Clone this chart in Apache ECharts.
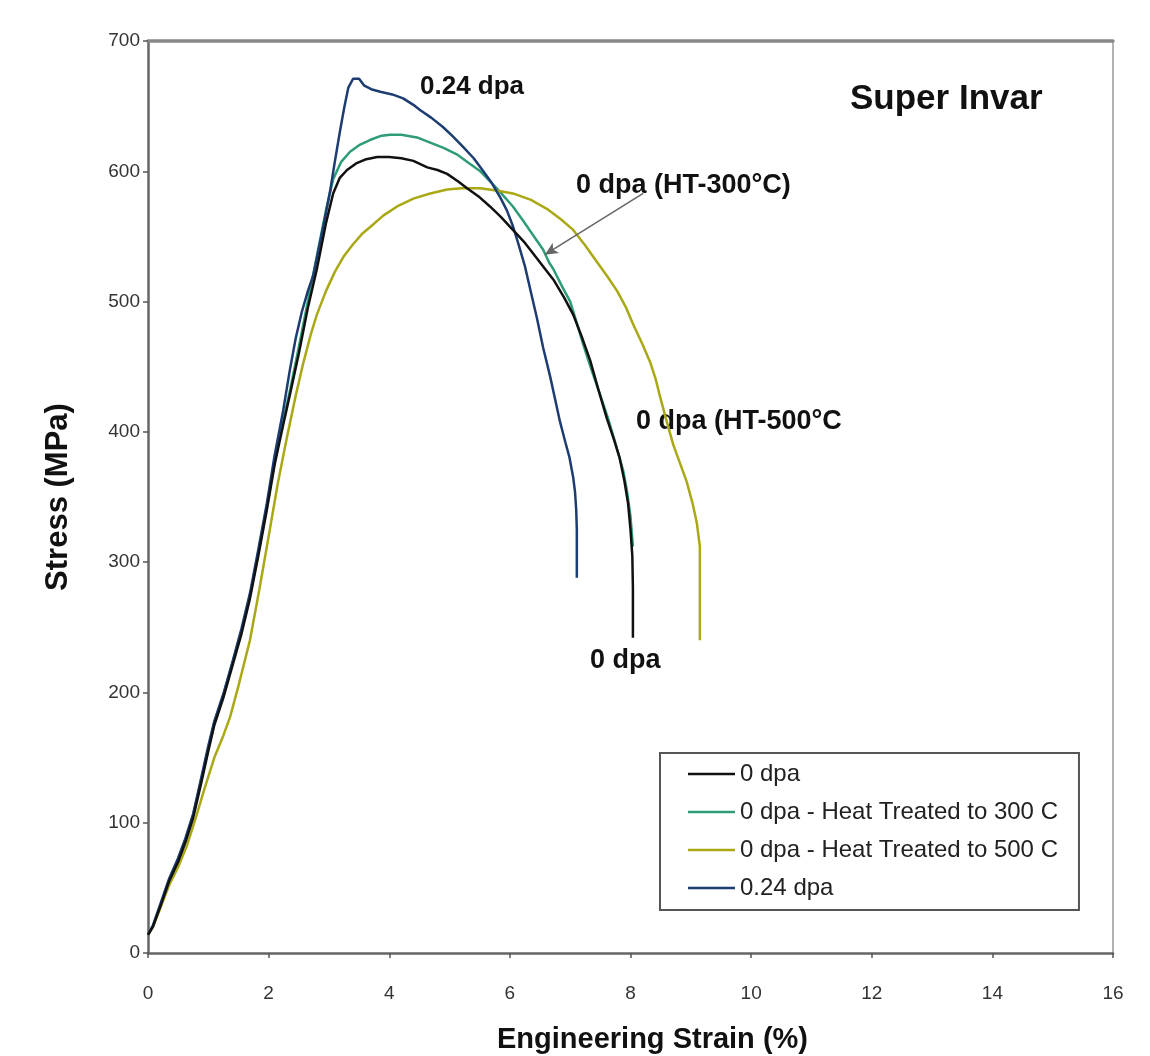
<!DOCTYPE html>
<html><head><meta charset="utf-8">
<script src="https://cdn.jsdelivr.net/npm/echarts@6.0.0/dist/echarts.min.js"></script>
<style>html,body{margin:0;padding:0;background:#fff}#c{width:1150px;height:1056px}</style>
</head><body><div id="c"></div>
<script>
// ---- data (strain %, stress MPa) ----
const seriesNames = ['0 dpa', '0 dpa - Heat Treated to 300 C', '0 dpa - Heat Treated to 500 C', '0.24 dpa'];
const xTicks = [0, 2, 4, 6, 8, 10, 12, 14, 16];
const yTicks = [0, 100, 200, 300, 400, 500, 600, 700];

const dpa0 = [[0,14],[0.08,20],[0.2,35],[0.35,55],[0.5,70],[0.62,85],[0.75,104],[0.88,130],[1.0,155],[1.1,175],[1.25,196],[1.41,222],[1.55,245],[1.69,272],[1.83,305],[1.97,340],[2.1,375],[2.24,405],[2.36,430],[2.5,460],[2.65,495],[2.8,525],[2.95,560],[3.07,583],[3.18,595],[3.3,601],[3.45,606],[3.6,609],[3.8,611],[4.0,611],[4.2,610],[4.4,608],[4.63,603],[4.8,601],[4.96,598],[5.15,592],[5.29,587],[5.5,580],[5.67,573],[5.85,565],[6.05,555],[6.25,545],[6.45,533],[6.6,524],[6.72,517],[6.9,503],[7.05,490],[7.2,472],[7.33,455],[7.47,432],[7.61,410],[7.72,395],[7.82,380],[7.9,362],[7.96,345],[8.0,325],[8.03,305],[8.04,280],[8.04,242]];
const dpa0HT300 = [[0,14],[0.08,20],[0.2,36],[0.35,56],[0.5,72],[0.62,87],[0.75,106],[0.88,132],[1.0,157],[1.1,177],[1.25,198],[1.41,224],[1.55,247],[1.69,274],[1.83,307],[1.97,342],[2.1,377],[2.24,408],[2.36,433],[2.5,465],[2.65,500],[2.8,535],[2.95,570],[3.07,594],[3.2,607],[3.35,615],[3.5,620],[3.68,624],[3.85,627],[4.01,628],[4.2,628],[4.46,626],[4.68,622],[4.9,618],[5.12,613],[5.3,607],[5.51,600],[5.7,591],[5.84,584],[6.05,573],[6.22,562],[6.4,550],[6.55,540],[6.65,530],[6.72,525],[6.85,513],[7.0,500],[7.1,485],[7.21,468],[7.35,448],[7.5,428],[7.63,410],[7.72,396],[7.8,383],[7.88,370],[7.94,355],[8.0,335],[8.04,312]];
const dpa0HT500 = [[0,14],[0.08,20],[0.2,34],[0.35,52],[0.5,66],[0.65,83],[0.8,105],[0.95,128],[1.1,150],[1.25,167],[1.36,181],[1.5,205],[1.69,240],[1.85,280],[2.02,325],[2.15,360],[2.3,395],[2.45,428],[2.57,452],[2.7,475],[2.8,490],[2.95,508],[3.1,523],[3.25,535],[3.4,544],[3.55,552],[3.68,557],[3.9,566],[4.13,573],[4.4,579],[4.68,583],[4.96,586],[5.2,587],[5.51,587],[5.8,585],[6.05,583],[6.35,578],[6.62,571],[6.85,563],[7.05,555],[7.25,543],[7.45,530],[7.62,519],[7.78,508],[7.92,496],[8.04,483],[8.2,467],[8.33,453],[8.42,440],[8.49,427],[8.6,408],[8.71,390],[8.82,376],[8.93,362],[9.03,345],[9.1,330],[9.15,312],[9.15,240]];
const dpa024 = [[0,14],[0.08,21],[0.2,37],[0.35,57],[0.5,73],[0.62,88],[0.75,107],[0.88,134],[1.0,159],[1.1,178],[1.25,199],[1.41,225],[1.55,249],[1.69,276],[1.83,310],[1.97,345],[2.1,382],[2.24,416],[2.35,447],[2.45,472],[2.55,492],[2.65,508],[2.74,520],[2.85,545],[2.95,568],[3.02,585],[3.1,608],[3.18,630],[3.25,648],[3.32,664],[3.4,671],[3.5,671],[3.58,666],[3.7,663],[3.85,661],[4.05,659],[4.23,656],[4.4,651],[4.51,647],[4.7,641],[4.89,634],[5.05,627],[5.22,619],[5.4,610],[5.56,600],[5.7,591],[5.84,580],[5.95,570],[6.05,558],[6.15,543],[6.25,527],[6.35,507],[6.45,487],[6.55,465],[6.67,442],[6.75,425],[6.83,408],[6.92,392],[6.99,380],[7.05,365],[7.08,354],[7.1,340],[7.11,325],[7.11,288]];

const arrowFrom = [8.21, 583];
const arrowTo = [6.58, 536];

const colors = ['#111111', '#2f9c78', '#aaa814', '#1c3c72'];
const seriesData = [dpa0, dpa0HT300, dpa0HT500, dpa024];

const chart = echarts.init(document.getElementById('c'), null, {renderer: 'canvas'});
const font = "'Liberation Sans',Arial,sans-serif";

const series = seriesNames.map((n, i) => ({
  name: n, type: 'line', data: seriesData[i], showSymbol: false, symbol: 'none',
  smooth: false, z: i === 0 ? 5 : 3, xAxisIndex: 0, yAxisIndex: 0,
  lineStyle: {color: colors[i], width: 2.5}, itemStyle: {color: colors[i]}
}));
series[1].markLine = {
  silent: true, symbol: ['none', 'arrow'], symbolSize: [9, 13],
  lineStyle: {color: '#666', width: 1.5, type: 'solid'}, label: {show: false},
  data: [[{coord: arrowFrom}, {coord: arrowTo}]]
};
// frame axes (top / right) need a bound series to be drawn
series.push({name: 'frame', type: 'line', data: [], xAxisIndex: 1, yAxisIndex: 1, showSymbol: false, silent: true});

chart.setOption({
  backgroundColor: '#ffffff',
  animation: false,
  grid: {left: 148, right: 37, top: 41, bottom: 103, containLabel: false, outerBoundsMode: 'none'},
  xAxis: [{
    type: 'value', min: 0, max: 16, interval: 2, position: 'bottom',
    name: 'Engineering Strain (%)', nameLocation: 'middle', nameGap: 72,
    nameTextStyle: {fontFamily: font, fontWeight: 'bold', fontSize: 29, color: '#111', padding: [0, 0, 0, 44]},
    axisLine: {show: true, onZero: false, lineStyle: {color: '#666', width: 2.5}},
    axisTick: {show: true, inside: false, length: 5, lineStyle: {color: '#555', width: 1.5}},
    axisLabel: {margin: 31, fontFamily: font, fontSize: 19, color: '#333',
      formatter: v => xTicks.includes(v) ? String(v) : ''},
    splitLine: {show: false}
  }, {
    type: 'value', min: 0, max: 16, interval: 2, position: 'top',
    axisLine: {show: true, onZero: false, lineStyle: {color: '#888', width: 3.5}},
    axisTick: {show: false}, axisLabel: {show: false}, splitLine: {show: false}
  }],
  yAxis: [{
    type: 'value', min: 0, max: 700, interval: 100, position: 'left',
    name: 'Stress (MPa)', nameLocation: 'middle', nameGap: 74, nameRotate: 90,
    nameTextStyle: {fontFamily: font, fontWeight: 'bold', fontSize: 31, color: '#111'},
    axisLine: {show: true, onZero: false, lineStyle: {color: '#666', width: 2.5}},
    axisTick: {show: true, inside: false, length: 5, lineStyle: {color: '#555', width: 1.5}},
    axisLabel: {margin: 8, fontFamily: font, fontSize: 19, color: '#333',
      formatter: v => yTicks.includes(v) ? String(v) : ''},
    splitLine: {show: false}
  }, {
    type: 'value', min: 0, max: 700, interval: 100, position: 'right',
    axisLine: {show: true, onZero: false, lineStyle: {color: '#999', width: 1.5}},
    axisTick: {show: false}, axisLabel: {show: false}, splitLine: {show: false}
  }],
  legend: {
    show: true, orient: 'vertical', left: 660, top: 753,
    padding: [9, 21, 10, 28], itemGap: 14, itemWidth: 47, itemHeight: 14,
    borderColor: '#555', borderWidth: 2, backgroundColor: '#fff',
    icon: 'path://M0,6 L47,6 L47,8.5 L0,8.5 Z',
    textStyle: {fontFamily: font, fontSize: 24, color: '#222', lineHeight: 22},
    data: seriesNames.map((n, i) => ({name: n, itemStyle: {color: colors[i]}}))
  },
  series: series,
  graphic: [
    {type: 'text', x: 420, y: 87, style: {text: '0.24 dpa', font: "bold 26px 'Liberation Sans',Arial", fill: '#111', textAlign: 'left', textVerticalAlign: 'middle'}},
    {type: 'text', x: 850, y: 99, style: {text: 'Super Invar', font: "bold 35px 'Liberation Sans',Arial", fill: '#111', textAlign: 'left', textVerticalAlign: 'middle'}},
    {type: 'text', x: 576, y: 186, style: {text: '0 dpa (HT-300°C)', font: "bold 27px 'Liberation Sans',Arial", fill: '#111', textAlign: 'left', textVerticalAlign: 'middle'}},
    {type: 'text', x: 636, y: 422, style: {text: '0 dpa (HT-500°C)', font: "bold 27px 'Liberation Sans',Arial", fill: '#111', textAlign: 'left', textVerticalAlign: 'middle', width: 210, overflow: 'truncate', ellipsis: ''}},
    {type: 'text', x: 590, y: 661, style: {text: '0 dpa', font: "bold 27px 'Liberation Sans',Arial", fill: '#111', textAlign: 'left', textVerticalAlign: 'middle'}}
  ]
});
</script>
</body></html>
